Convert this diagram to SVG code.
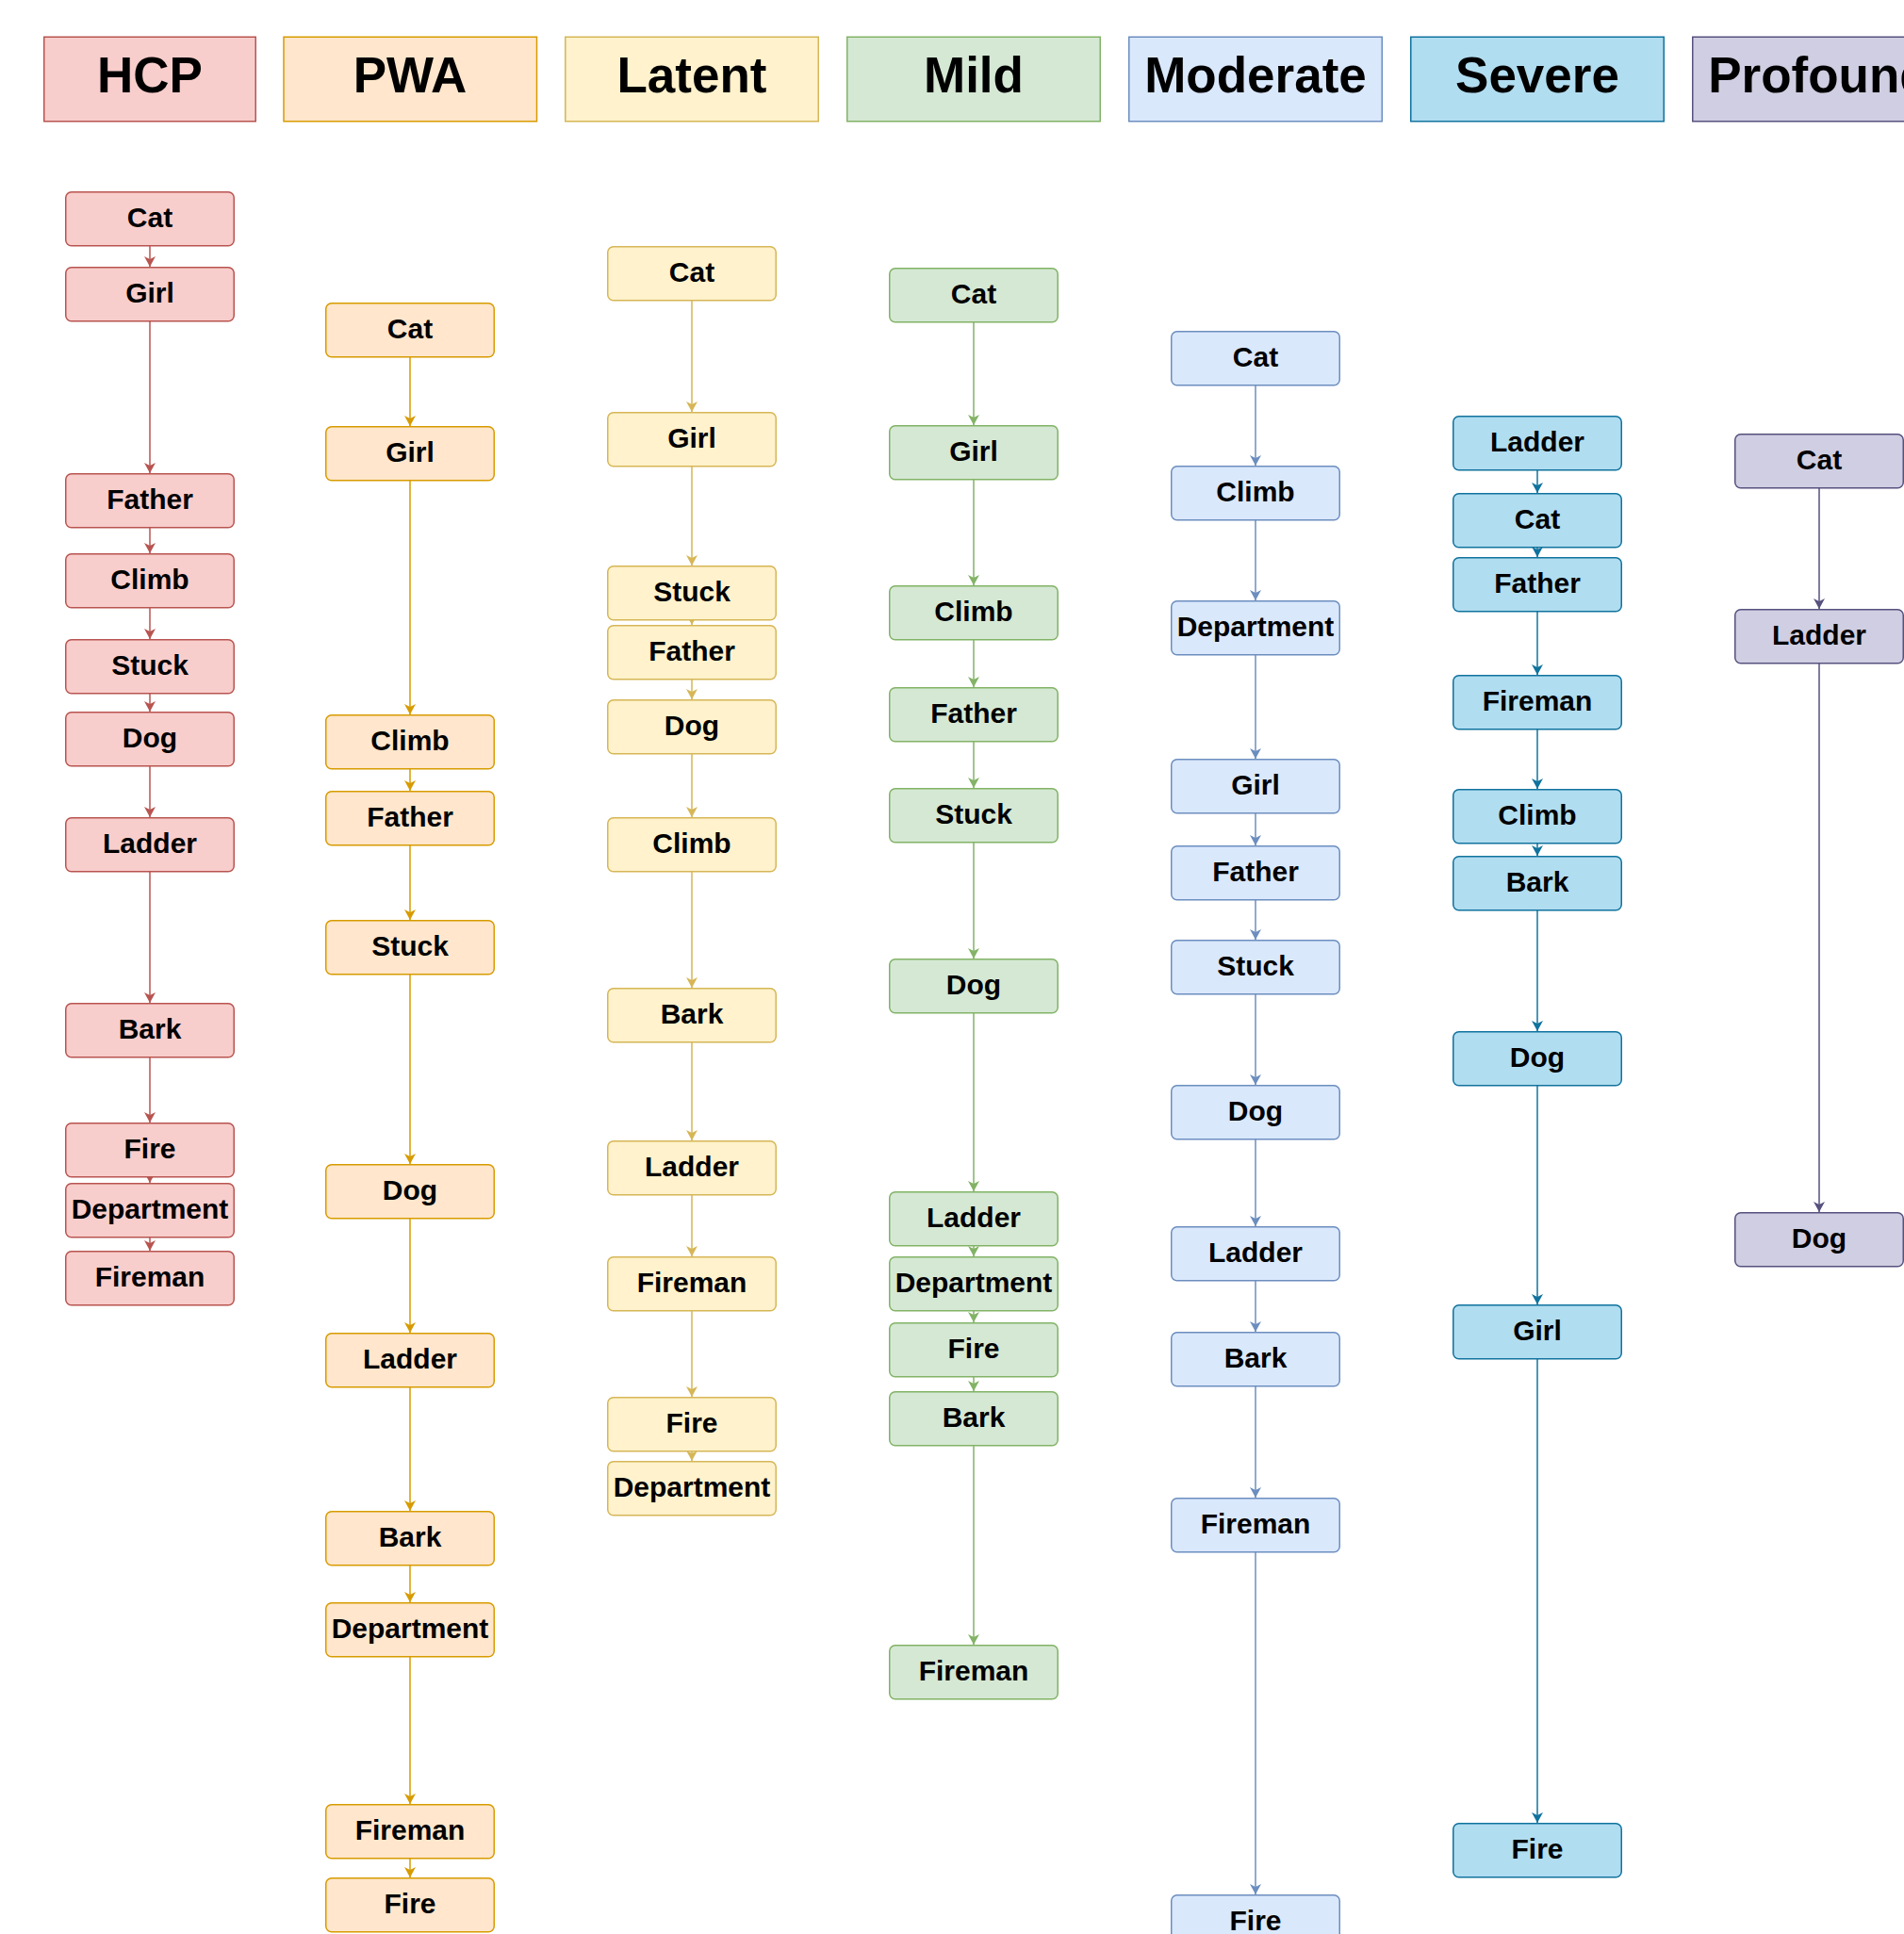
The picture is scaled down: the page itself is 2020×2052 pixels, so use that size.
<svg xmlns="http://www.w3.org/2000/svg" width="2020" height="2052" viewBox="0 0 2020 2052">
<style>
.hd{stroke-width:1.5}
.n rect{stroke-width:1.5}
.t{font-family:"Liberation Sans",Arial,Helvetica,sans-serif;font-weight:bold;font-size:30px;text-anchor:middle;fill:#000}
.ht{font-size:53px}
.c1 rect{fill:#f8cecc;stroke:#b85450}
.c2 rect{fill:#ffe6cc;stroke:#d79b00}
.c3 rect{fill:#fff2cc;stroke:#d6b656}
.c4 rect{fill:#d5e8d4;stroke:#82b366}
.c5 rect{fill:#dae8fc;stroke:#6c8ebf}
.c6 rect{fill:#b1ddf0;stroke:#10739e}
.c7 rect{fill:#d0cee2;stroke:#56517e}
#connectors path{stroke-width:1.5;fill:none}
.e1 path{stroke:#b85450;marker-end:url(#a1)}
.e2 path{stroke:#d79b00;marker-end:url(#a2)}
.e3 path{stroke:#d6b656;marker-end:url(#a3)}
.e4 path{stroke:#82b366;marker-end:url(#a4)}
.e5 path{stroke:#6c8ebf;marker-end:url(#a5)}
.e6 path{stroke:#10739e;marker-end:url(#a6)}
.e7 path{stroke:#56517e;marker-end:url(#a7)}
</style>
<defs>
<marker id="a1" markerUnits="userSpaceOnUse" markerWidth="12" markerHeight="14" refX="11" refY="7" orient="auto"><path d="M11,7 L0,1 L3,7 L0,13 Z" fill="#b85450"/></marker>
<marker id="a2" markerUnits="userSpaceOnUse" markerWidth="12" markerHeight="14" refX="11" refY="7" orient="auto"><path d="M11,7 L0,1 L3,7 L0,13 Z" fill="#d79b00"/></marker>
<marker id="a3" markerUnits="userSpaceOnUse" markerWidth="12" markerHeight="14" refX="11" refY="7" orient="auto"><path d="M11,7 L0,1 L3,7 L0,13 Z" fill="#d6b656"/></marker>
<marker id="a4" markerUnits="userSpaceOnUse" markerWidth="12" markerHeight="14" refX="11" refY="7" orient="auto"><path d="M11,7 L0,1 L3,7 L0,13 Z" fill="#82b366"/></marker>
<marker id="a5" markerUnits="userSpaceOnUse" markerWidth="12" markerHeight="14" refX="11" refY="7" orient="auto"><path d="M11,7 L0,1 L3,7 L0,13 Z" fill="#6c8ebf"/></marker>
<marker id="a6" markerUnits="userSpaceOnUse" markerWidth="12" markerHeight="14" refX="11" refY="7" orient="auto"><path d="M11,7 L0,1 L3,7 L0,13 Z" fill="#10739e"/></marker>
<marker id="a7" markerUnits="userSpaceOnUse" markerWidth="12" markerHeight="14" refX="11" refY="7" orient="auto"><path d="M11,7 L0,1 L3,7 L0,13 Z" fill="#56517e"/></marker>
</defs>
<rect x="0" y="0" width="2020" height="2052" fill="#ffffff"/>

<g id="headers">
<g id="h-hcp" class="c1"><rect class="hd" x="46.75" y="39.25" width="224.5" height="89.5"/><text class="t ht" x="159" y="98">HCP</text></g>
<g id="h-pwa" class="c2"><rect class="hd" x="301" y="39.25" width="268.5" height="89.5"/><text class="t ht" x="435" y="98">PWA</text></g>
<g id="h-latent" class="c3"><rect class="hd" x="599.75" y="39.25" width="268.5" height="89.5"/><text class="t ht" x="734" y="98">Latent</text></g>
<g id="h-mild" class="c4"><rect class="hd" x="898.75" y="39.25" width="268.5" height="89.5"/><text class="t ht" x="1033" y="98">Mild</text></g>
<g id="h-moderate" class="c5"><rect class="hd" x="1197.75" y="39.25" width="268.5" height="89.5"/><text class="t ht" x="1332" y="98">Moderate</text></g>
<g id="h-severe" class="c6"><rect class="hd" x="1496.75" y="39.25" width="268.5" height="89.5"/><text class="t ht" x="1631" y="98">Severe</text></g>
<g id="h-profound" class="c7"><rect class="hd" x="1795.75" y="39.25" width="268.5" height="89.5"/><text class="t ht" x="1930" y="98">Profound</text></g>
</g>

<g id="connectors">
<g class="e1">
<path d="M159,260V283"/><path d="M159,340V502"/><path d="M159,559V587"/><path d="M159,644V678"/><path d="M159,735V755"/><path d="M159,812V867"/><path d="M159,924V1064"/><path d="M159,1121V1191"/><path d="M159,1248V1255"/><path d="M159,1312V1327"/>
</g>
<g class="e2">
<path d="M435,378V452"/><path d="M435,509V758"/><path d="M435,815V839"/><path d="M435,896V976"/><path d="M435,1033V1235"/><path d="M435,1292V1414"/><path d="M435,1471V1603"/><path d="M435,1660V1700"/><path d="M435,1757V1914"/><path d="M435,1971V1992"/>
</g>
<g class="e3">
<path d="M734,318V437"/><path d="M734,494V600"/><path d="M734,657V663"/><path d="M734,720V742"/><path d="M734,799V867"/><path d="M734,924V1048"/><path d="M734,1105V1210"/><path d="M734,1267V1333"/><path d="M734,1390V1482"/><path d="M734,1539V1550"/>
</g>
<g class="e4">
<path d="M1033,341V451"/><path d="M1033,508V621"/><path d="M1033,678V729"/><path d="M1033,786V836"/><path d="M1033,893V1017"/><path d="M1033,1074V1264"/><path d="M1033,1321V1333"/><path d="M1033,1390V1403"/><path d="M1033,1460V1476"/><path d="M1033,1533V1745"/>
</g>
<g class="e5">
<path d="M1332,408V494"/><path d="M1332,551V637"/><path d="M1332,694V805"/><path d="M1332,862V897"/><path d="M1332,954V997"/><path d="M1332,1054V1151"/><path d="M1332,1208V1301"/><path d="M1332,1358V1413"/><path d="M1332,1470V1589"/><path d="M1332,1646V2010"/>
</g>
<g class="e6">
<path d="M1631,498V523"/><path d="M1631,580V591"/><path d="M1631,648V716"/><path d="M1631,773V837"/><path d="M1631,894V908"/><path d="M1631,965V1094"/><path d="M1631,1151V1384"/><path d="M1631,1441V1934"/>
</g>
<g class="e7">
<path d="M1930,517V646"/><path d="M1930,703V1286"/>
</g>
</g>

<g id="col-hcp" class="n c1">
<g id="hcp-cat"><rect x="69.75" y="203.75" width="178.5" height="57" rx="6"/><text class="t" x="159" y="241">Cat</text></g>
<g id="hcp-girl"><rect x="69.75" y="283.75" width="178.5" height="57" rx="6"/><text class="t" x="159" y="321">Girl</text></g>
<g id="hcp-father"><rect x="69.75" y="502.75" width="178.5" height="57" rx="6"/><text class="t" x="159" y="540">Father</text></g>
<g id="hcp-climb"><rect x="69.75" y="587.75" width="178.5" height="57" rx="6"/><text class="t" x="159" y="625">Climb</text></g>
<g id="hcp-stuck"><rect x="69.75" y="678.75" width="178.5" height="57" rx="6"/><text class="t" x="159" y="716">Stuck</text></g>
<g id="hcp-dog"><rect x="69.75" y="755.75" width="178.5" height="57" rx="6"/><text class="t" x="159" y="793">Dog</text></g>
<g id="hcp-ladder"><rect x="69.75" y="867.75" width="178.5" height="57" rx="6"/><text class="t" x="159" y="905">Ladder</text></g>
<g id="hcp-bark"><rect x="69.75" y="1064.75" width="178.5" height="57" rx="6"/><text class="t" x="159" y="1102">Bark</text></g>
<g id="hcp-fire"><rect x="69.75" y="1191.75" width="178.5" height="57" rx="6"/><text class="t" x="159" y="1229">Fire</text></g>
<g id="hcp-department"><rect x="69.75" y="1255.75" width="178.5" height="57" rx="6"/><text class="t" x="159" y="1293">Department</text></g>
<g id="hcp-fireman"><rect x="69.75" y="1327.75" width="178.5" height="57" rx="6"/><text class="t" x="159" y="1365">Fireman</text></g>
</g>

<g id="col-pwa" class="n c2">
<g id="pwa-cat"><rect x="345.75" y="321.75" width="178.5" height="57" rx="6"/><text class="t" x="435" y="359">Cat</text></g>
<g id="pwa-girl"><rect x="345.75" y="452.75" width="178.5" height="57" rx="6"/><text class="t" x="435" y="490">Girl</text></g>
<g id="pwa-climb"><rect x="345.75" y="758.75" width="178.5" height="57" rx="6"/><text class="t" x="435" y="796">Climb</text></g>
<g id="pwa-father"><rect x="345.75" y="839.75" width="178.5" height="57" rx="6"/><text class="t" x="435" y="877">Father</text></g>
<g id="pwa-stuck"><rect x="345.75" y="976.75" width="178.5" height="57" rx="6"/><text class="t" x="435" y="1014">Stuck</text></g>
<g id="pwa-dog"><rect x="345.75" y="1235.75" width="178.5" height="57" rx="6"/><text class="t" x="435" y="1273">Dog</text></g>
<g id="pwa-ladder"><rect x="345.75" y="1414.75" width="178.5" height="57" rx="6"/><text class="t" x="435" y="1452">Ladder</text></g>
<g id="pwa-bark"><rect x="345.75" y="1603.75" width="178.5" height="57" rx="6"/><text class="t" x="435" y="1641">Bark</text></g>
<g id="pwa-department"><rect x="345.75" y="1700.75" width="178.5" height="57" rx="6"/><text class="t" x="435" y="1738">Department</text></g>
<g id="pwa-fireman"><rect x="345.75" y="1914.75" width="178.5" height="57" rx="6"/><text class="t" x="435" y="1952">Fireman</text></g>
<g id="pwa-fire"><rect x="345.75" y="1992.75" width="178.5" height="57" rx="6"/><text class="t" x="435" y="2030">Fire</text></g>
</g>

<g id="col-latent" class="n c3">
<g id="latent-cat"><rect x="644.75" y="261.75" width="178.5" height="57" rx="6"/><text class="t" x="734" y="299">Cat</text></g>
<g id="latent-girl"><rect x="644.75" y="437.75" width="178.5" height="57" rx="6"/><text class="t" x="734" y="475">Girl</text></g>
<g id="latent-stuck"><rect x="644.75" y="600.75" width="178.5" height="57" rx="6"/><text class="t" x="734" y="638">Stuck</text></g>
<g id="latent-father"><rect x="644.75" y="663.75" width="178.5" height="57" rx="6"/><text class="t" x="734" y="701">Father</text></g>
<g id="latent-dog"><rect x="644.75" y="742.75" width="178.5" height="57" rx="6"/><text class="t" x="734" y="780">Dog</text></g>
<g id="latent-climb"><rect x="644.75" y="867.75" width="178.5" height="57" rx="6"/><text class="t" x="734" y="905">Climb</text></g>
<g id="latent-bark"><rect x="644.75" y="1048.75" width="178.5" height="57" rx="6"/><text class="t" x="734" y="1086">Bark</text></g>
<g id="latent-ladder"><rect x="644.75" y="1210.75" width="178.5" height="57" rx="6"/><text class="t" x="734" y="1248">Ladder</text></g>
<g id="latent-fireman"><rect x="644.75" y="1333.75" width="178.5" height="57" rx="6"/><text class="t" x="734" y="1371">Fireman</text></g>
<g id="latent-fire"><rect x="644.75" y="1482.75" width="178.5" height="57" rx="6"/><text class="t" x="734" y="1520">Fire</text></g>
<g id="latent-department"><rect x="644.75" y="1550.75" width="178.5" height="57" rx="6"/><text class="t" x="734" y="1588">Department</text></g>
</g>

<g id="col-mild" class="n c4">
<g id="mild-cat"><rect x="943.75" y="284.75" width="178.5" height="57" rx="6"/><text class="t" x="1033" y="322">Cat</text></g>
<g id="mild-girl"><rect x="943.75" y="451.75" width="178.5" height="57" rx="6"/><text class="t" x="1033" y="489">Girl</text></g>
<g id="mild-climb"><rect x="943.75" y="621.75" width="178.5" height="57" rx="6"/><text class="t" x="1033" y="659">Climb</text></g>
<g id="mild-father"><rect x="943.75" y="729.75" width="178.5" height="57" rx="6"/><text class="t" x="1033" y="767">Father</text></g>
<g id="mild-stuck"><rect x="943.75" y="836.75" width="178.5" height="57" rx="6"/><text class="t" x="1033" y="874">Stuck</text></g>
<g id="mild-dog"><rect x="943.75" y="1017.75" width="178.5" height="57" rx="6"/><text class="t" x="1033" y="1055">Dog</text></g>
<g id="mild-ladder"><rect x="943.75" y="1264.75" width="178.5" height="57" rx="6"/><text class="t" x="1033" y="1302">Ladder</text></g>
<g id="mild-department"><rect x="943.75" y="1333.75" width="178.5" height="57" rx="6"/><text class="t" x="1033" y="1371">Department</text></g>
<g id="mild-fire"><rect x="943.75" y="1403.75" width="178.5" height="57" rx="6"/><text class="t" x="1033" y="1441">Fire</text></g>
<g id="mild-bark"><rect x="943.75" y="1476.75" width="178.5" height="57" rx="6"/><text class="t" x="1033" y="1514">Bark</text></g>
<g id="mild-fireman"><rect x="943.75" y="1745.75" width="178.5" height="57" rx="6"/><text class="t" x="1033" y="1783">Fireman</text></g>
</g>

<g id="col-moderate" class="n c5">
<g id="moderate-cat"><rect x="1242.75" y="351.75" width="178.5" height="57" rx="6"/><text class="t" x="1332" y="389">Cat</text></g>
<g id="moderate-climb"><rect x="1242.75" y="494.75" width="178.5" height="57" rx="6"/><text class="t" x="1332" y="532">Climb</text></g>
<g id="moderate-department"><rect x="1242.75" y="637.75" width="178.5" height="57" rx="6"/><text class="t" x="1332" y="675">Department</text></g>
<g id="moderate-girl"><rect x="1242.75" y="805.75" width="178.5" height="57" rx="6"/><text class="t" x="1332" y="843">Girl</text></g>
<g id="moderate-father"><rect x="1242.75" y="897.75" width="178.5" height="57" rx="6"/><text class="t" x="1332" y="935">Father</text></g>
<g id="moderate-stuck"><rect x="1242.75" y="997.75" width="178.5" height="57" rx="6"/><text class="t" x="1332" y="1035">Stuck</text></g>
<g id="moderate-dog"><rect x="1242.75" y="1151.75" width="178.5" height="57" rx="6"/><text class="t" x="1332" y="1189">Dog</text></g>
<g id="moderate-ladder"><rect x="1242.75" y="1301.75" width="178.5" height="57" rx="6"/><text class="t" x="1332" y="1339">Ladder</text></g>
<g id="moderate-bark"><rect x="1242.75" y="1413.75" width="178.5" height="57" rx="6"/><text class="t" x="1332" y="1451">Bark</text></g>
<g id="moderate-fireman"><rect x="1242.75" y="1589.75" width="178.5" height="57" rx="6"/><text class="t" x="1332" y="1627">Fireman</text></g>
<g id="moderate-fire"><rect x="1242.75" y="2010.75" width="178.5" height="57" rx="6"/><text class="t" x="1332" y="2048">Fire</text></g>
</g>

<g id="col-severe" class="n c6">
<g id="severe-ladder"><rect x="1541.75" y="441.75" width="178.5" height="57" rx="6"/><text class="t" x="1631" y="479">Ladder</text></g>
<g id="severe-cat"><rect x="1541.75" y="523.75" width="178.5" height="57" rx="6"/><text class="t" x="1631" y="561">Cat</text></g>
<g id="severe-father"><rect x="1541.75" y="591.75" width="178.5" height="57" rx="6"/><text class="t" x="1631" y="629">Father</text></g>
<g id="severe-fireman"><rect x="1541.75" y="716.75" width="178.5" height="57" rx="6"/><text class="t" x="1631" y="754">Fireman</text></g>
<g id="severe-climb"><rect x="1541.75" y="837.75" width="178.5" height="57" rx="6"/><text class="t" x="1631" y="875">Climb</text></g>
<g id="severe-bark"><rect x="1541.75" y="908.75" width="178.5" height="57" rx="6"/><text class="t" x="1631" y="946">Bark</text></g>
<g id="severe-dog"><rect x="1541.75" y="1094.75" width="178.5" height="57" rx="6"/><text class="t" x="1631" y="1132">Dog</text></g>
<g id="severe-girl"><rect x="1541.75" y="1384.75" width="178.5" height="57" rx="6"/><text class="t" x="1631" y="1422">Girl</text></g>
<g id="severe-fire"><rect x="1541.75" y="1934.75" width="178.5" height="57" rx="6"/><text class="t" x="1631" y="1972">Fire</text></g>
</g>

<g id="col-profound" class="n c7">
<g id="profound-cat"><rect x="1840.75" y="460.75" width="178.5" height="57" rx="6"/><text class="t" x="1930" y="498">Cat</text></g>
<g id="profound-ladder"><rect x="1840.75" y="646.75" width="178.5" height="57" rx="6"/><text class="t" x="1930" y="684">Ladder</text></g>
<g id="profound-dog"><rect x="1840.75" y="1286.75" width="178.5" height="57" rx="6"/><text class="t" x="1930" y="1324">Dog</text></g>
</g>
</svg>
